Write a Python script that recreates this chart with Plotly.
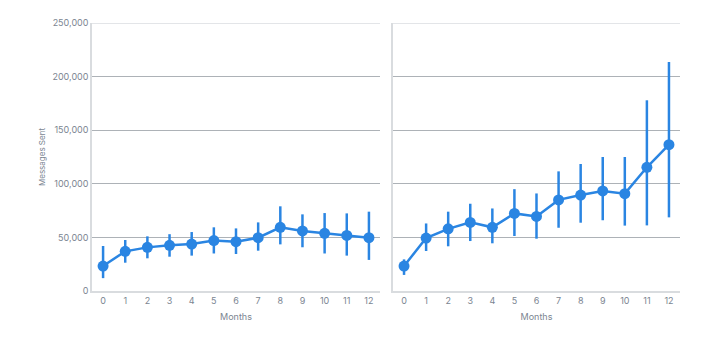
import plotly.graph_objects as go

months = list(range(13))
tick_labels = [str(m) for m in months]

left_mean = [23300, 37000, 40700, 42600, 43800, 47000, 46000, 49700, 59400, 56000, 53800, 51800, 49700]
left_upper = [42000, 47600, 51000, 53000, 55000, 59400, 58400, 64000, 79000, 71500, 72700, 72400, 74000]
left_lower = [12000, 26400, 30500, 32000, 33000, 35000, 34500, 37600, 43500, 40800, 35000, 33000, 29000]

right_mean = [23300, 49400, 58000, 64000, 59400, 72400, 69600, 85000, 89500, 93300, 90800, 115400, 136500]
right_upper = [29500, 63000, 74000, 81400, 77000, 95000, 91000, 111600, 118500, 125000, 125000, 177900, 213600]
right_lower = [15000, 37300, 41700, 46600, 44500, 51300, 48800, 59000, 63700, 66000, 61000, 61200, 68700]

y_ticks = [0, 50000, 100000, 150000, 200000, 250000]
y_tick_text = ["0", "50,000", "100,000", "150,000", "200,000", "250,000"]

blue = "#2a85e2"
font_family = "Inter, Roboto, sans-serif"
tick_color = "#7b8591"

fig = go.Figure()

def add_series(mean, upper, lower, xa, ya):
    fig.add_trace(go.Scatter(
        x=months, y=mean, xaxis=xa, yaxis=ya,
        mode="lines+markers",
        line=dict(color=blue, width=2.5),
        marker=dict(color=blue, size=11),
        error_y=dict(
            type="data", symmetric=False,
            array=[u - m for u, m in zip(upper, mean)],
            arrayminus=[m - l for m, l in zip(mean, lower)],
            color=blue, thickness=2.5, width=0,
        ),
        showlegend=False,
    ))

add_series(left_mean, left_upper, left_lower, "x", "y")
add_series(right_mean, right_upper, right_lower, "x2", "y2")

xcommon = dict(
    range=[-0.5, 12.5], tickvals=months, ticktext=tick_labels,
    showgrid=False, zeroline=False, showline=True, linecolor="#d9dcdf", linewidth=1.5,
    ticks="", tickfont=dict(size=9, color=tick_color, family=font_family),
    title=dict(text="Months", font=dict(size=9, color=tick_color, family=font_family), standoff=9),
)
ycommon = dict(
    range=[0, 250000], tickvals=y_ticks, ticktext=y_tick_text,
    showgrid=True, gridcolor="#adb2b7", gridwidth=1, zeroline=False,
    showline=True, linecolor="#d9dcdf", linewidth=1.5, ticks="",
)

fig.update_layout(
    width=720, height=338,
    margin=dict(l=92, r=40, t=23, b=47),
    paper_bgcolor="white", plot_bgcolor="white",
    font=dict(family=font_family),
    xaxis=dict(domain=[0, 0.4898], **xcommon),
    xaxis2=dict(domain=[0.5119, 1], **xcommon),
    yaxis=dict(
        anchor="x",
        tickfont=dict(size=9, color=tick_color, family=font_family),
        title=dict(text="Messages Sent", font=dict(size=8, color=tick_color, family=font_family), standoff=6),
        **ycommon,
    ),
    yaxis2=dict(anchor="x2", showticklabels=False, **ycommon),
    shapes=[
        dict(type="line", xref="x domain", yref="y", x0=0, x1=1, y0=250000, y1=250000,
             line=dict(color="#dadde0", width=1.5), layer="above"),
        dict(type="line", xref="x2 domain", yref="y2", x0=0, x1=1, y0=250000, y1=250000,
             line=dict(color="#dadde0", width=1.5), layer="above"),
    ],
)

fig.write_html("out.html")
